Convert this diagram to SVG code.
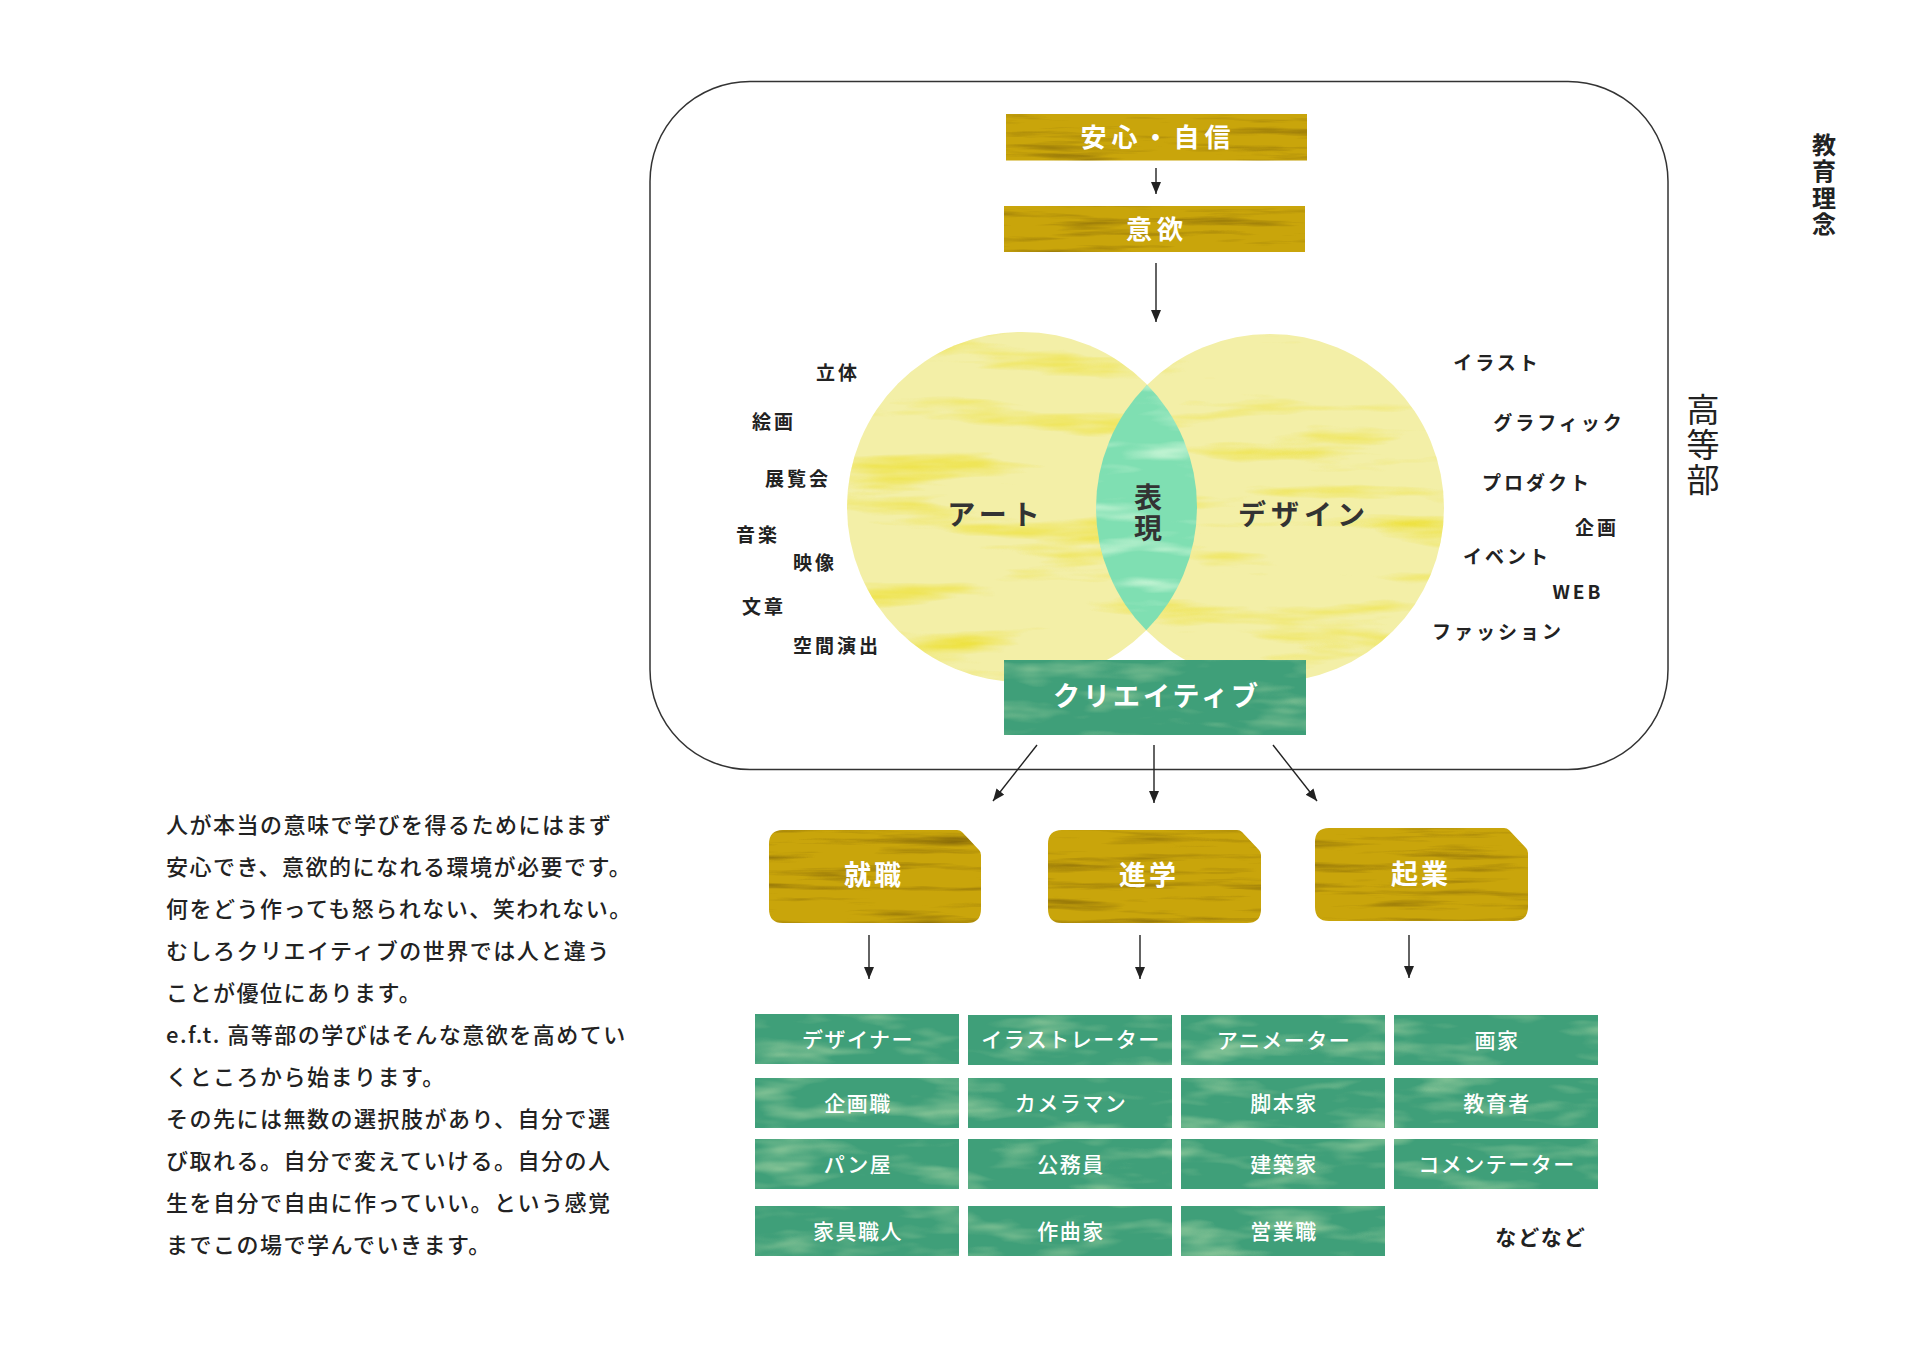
<svg xmlns="http://www.w3.org/2000/svg" width="1909" height="1350" viewBox="0 0 1909 1350">
<style>
  text { font-family: "Noto Sans CJK JP", "Noto Sans", sans-serif; }
  .frame { fill: none; stroke: #333; stroke-width: 1.5; }
  .gold { fill: #c9a50b; }
  .green { fill: #3f9f79; }
  .tile { fill: #3f9f79; }
  .wlab { fill: #ffffff; font-weight: 700; text-anchor: middle; }
  .big { font-size: 27px; letter-spacing: 3px; }
  .tl { fill: #ffffff; font-weight: 500; font-size: 21px; letter-spacing: 1.5px; text-anchor: middle; }
  .cl { fill: #222; font-weight: 700; font-size: 19px; letter-spacing: 3px; text-anchor: middle; }
  .inner { fill: #333; font-weight: 700; font-size: 28px; letter-spacing: 5px; text-anchor: middle; }
  .para { fill: #222; font-weight: 500; font-size: 22px; letter-spacing: 1.5px; }
  .vert { writing-mode: vertical-rl; text-anchor: start; fill: #222; }
  .conn line { stroke: #222; stroke-width: 1.4; fill: none; marker-end: url(#arr); }
</style>
<defs>
  <marker id="arr" markerUnits="userSpaceOnUse" markerWidth="12" markerHeight="14" refX="12" refY="5" orient="auto">
    <path d="M0,0 L12,5 L0,10 Z" fill="#222"/>
  </marker>
  <filter id="texGold" x="0" y="0" width="1" height="1" color-interpolation-filters="sRGB">
    <feTurbulence type="fractalNoise" baseFrequency="0.008 0.11" numOctaves="4" seed="7" result="n"/>
    <feColorMatrix in="n" type="matrix" values="0 0 0 0 0.47  0 0 0 0 0.36  0 0 0 0 0.03  1.8 0 0 0 -0.92" result="s"/>
    <feComposite in="s" in2="SourceGraphic" operator="in" result="s2"/>
    <feMerge><feMergeNode in="SourceGraphic"/><feMergeNode in="s2"/></feMerge>
  </filter>
  <filter id="texGreen" x="0" y="0" width="1" height="1" color-interpolation-filters="sRGB">
    <feTurbulence type="fractalNoise" baseFrequency="0.012 0.05" numOctaves="3" seed="3" result="n"/>
    <feColorMatrix in="n" type="matrix" values="0 0 0 0 0.55  0 0 0 0 0.78  0 0 0 0 0.6  2.4 0 0 0 -1.2" result="s"/>
    <feComposite in="s" in2="SourceGraphic" operator="in" result="s2"/>
    <feMerge><feMergeNode in="SourceGraphic"/><feMergeNode in="s2"/></feMerge>
  </filter>
  <filter id="texYel" x="0" y="0" width="1" height="1" color-interpolation-filters="sRGB">
    <feTurbulence type="fractalNoise" baseFrequency="0.005 0.035" numOctaves="4" seed="11" result="n"/>
    <feColorMatrix in="n" type="matrix" values="0 0 0 0 0.93  0 0 0 0 0.88  0 0 0 0 0.22  2.8 0 0 0 -1.5" result="s"/>
    <feComposite in="s" in2="SourceGraphic" operator="in" result="s2"/>
    <feMerge><feMergeNode in="SourceGraphic"/><feMergeNode in="s2"/></feMerge>
  </filter>
  <filter id="texMint" x="0" y="0" width="1" height="1" color-interpolation-filters="sRGB">
    <feTurbulence type="fractalNoise" baseFrequency="0.01 0.05" numOctaves="3" seed="5" result="n"/>
    <feColorMatrix in="n" type="matrix" values="0 0 0 0 0.75  0 0 0 0 0.95  0 0 0 0 0.82  3 0 0 0 -1.5" result="s"/>
    <feComposite in="s" in2="SourceGraphic" operator="in" result="s2"/>
    <feMerge><feMergeNode in="SourceGraphic"/><feMergeNode in="s2"/></feMerge>
  </filter>
  <clipPath id="clipLeft"><circle cx="1022" cy="507" r="175"/></clipPath>
</defs>

<rect width="1909" height="1350" fill="#ffffff"/>

<!-- outer frame -->
<rect id="frame-koutoubu" class="frame" x="650" y="81.5" width="1018" height="688" rx="100" ry="100"/>

<!-- vertical titles -->
<text id="title-kyoiku-rinen" class="vert" x="1824" y="133" font-size="24" font-weight="700" letter-spacing="2.25">教育理念</text>
<text id="title-koutoubu" class="vert" x="1703" y="393" font-size="33" font-weight="400" letter-spacing="2">高等部</text>

<!-- top boxes -->
<g id="node-anshin">
  <rect class="gold" x="1006" y="114" width="301" height="46.5" filter="url(#texGold)"/>
  <text class="wlab" x="1158" y="147" font-size="26" letter-spacing="5">安心・自信</text>
</g>
<g id="node-iyoku">
  <rect class="gold" x="1004" y="206" width="301" height="46" filter="url(#texGold)"/>
  <text class="wlab" x="1157" y="239" font-size="26" letter-spacing="5">意欲</text>
</g>

<!-- venn -->
<g id="node-art">
  <circle cx="1022" cy="507" r="175" fill="#f3efa7" filter="url(#texYel)"/>
</g>
<g id="node-design">
  <circle cx="1270" cy="508" r="174" fill="#f3efa7" filter="url(#texYel)"/>
</g>
<g id="node-hyogen">
  <g clip-path="url(#clipLeft)">
    <circle cx="1270" cy="508" r="174" fill="#7fdfb2" filter="url(#texMint)"/>
  </g>
  <text class="vert" x="1148" y="483" font-size="28" font-weight="700" letter-spacing="3" style="fill:#333">表現</text>
</g>
<text class="inner" x="996" y="525">アート</text>
<text class="inner" x="1304" y="525">デザイン</text>

<g id="labels-art">
  <text class="cl" x="838" y="380">立体</text>
  <text class="cl" x="774" y="429">絵画</text>
  <text class="cl" x="798" y="486">展覧会</text>
  <text class="cl" x="758" y="542">音楽</text>
  <text class="cl" x="815" y="570">映像</text>
  <text class="cl" x="764" y="614">文章</text>
  <text class="cl" x="837" y="653">空間演出</text>
</g>
<g id="labels-design">
  <text class="cl" x="1497" y="370">イラスト</text>
  <text class="cl" x="1559" y="430">グラフィック</text>
  <text class="cl" x="1537" y="490">プロダクト</text>
  <text class="cl" x="1597" y="535">企画</text>
  <text class="cl" x="1507" y="564">イベント</text>
  <text class="cl" x="1578" y="599" letter-spacing="1">WEB</text>
  <text class="cl" x="1498" y="639">ファッション</text>
</g>

<!-- creative -->
<g id="node-creative">
  <rect class="green" x="1004" y="660" width="302" height="75" filter="url(#texGreen)"/>
  <text class="wlab big" x="1157" y="706">クリエイティブ</text>
</g>

<!-- connectors -->
<g id="connectors" class="conn">
  <line x1="1156" y1="168" x2="1156" y2="194"/>
  <line x1="1156" y1="263" x2="1156" y2="322"/>
  <line x1="1037" y1="745" x2="993" y2="801"/>
  <line x1="1154" y1="745" x2="1154" y2="803"/>
  <line x1="1273" y1="745" x2="1317" y2="801"/>
  <line x1="869" y1="935" x2="869" y2="979"/>
  <line x1="1140" y1="935" x2="1140" y2="979"/>
  <line x1="1409" y1="935" x2="1409" y2="978"/>
</g>

<!-- tab boxes -->
<g id="node-shushoku">
  <path class="gold" filter="url(#texGold)" d="M783,830 H957 Q960,830 962,832 L979,850 Q981,852 981,855 V909 Q981,923 967,923 H783 Q769,923 769,909 V844 Q769,830 783,830 Z"/>
  <text class="wlab big" x="874" y="885">就職</text>
</g>
<g id="node-shingaku">
  <path class="gold" filter="url(#texGold)" d="M1062,830 H1237 Q1240,830 1242,832 L1259,850 Q1261,852 1261,855 V909 Q1261,923 1247,923 H1062 Q1048,923 1048,909 V844 Q1048,830 1062,830 Z"/>
  <text class="wlab big" x="1149" y="885">進学</text>
</g>
<g id="node-kigyo">
  <path class="gold" filter="url(#texGold)" d="M1329,828 H1504 Q1507,828 1509,830 L1526,848 Q1528,850 1528,853 V907 Q1528,921 1514,921 H1329 Q1315,921 1315,907 V842 Q1315,828 1329,828 Z"/>
  <text class="wlab big" x="1421" y="884">起業</text>
</g>

<!-- job tiles -->
<g id="tile-designer"><rect class="tile" x="755" y="1014" width="204" height="50" filter="url(#texGreen)"/><text class="tl" x="858" y="1047">デザイナー</text></g>
<g id="tile-illustrator"><rect class="tile" x="968" y="1015" width="204" height="50" filter="url(#texGreen)"/><text class="tl" x="1071" y="1047">イラストレーター</text></g>
<g id="tile-animator"><rect class="tile" x="1181" y="1015" width="204" height="50" filter="url(#texGreen)"/><text class="tl" x="1284" y="1048">アニメーター</text></g>
<g id="tile-gaka"><rect class="tile" x="1394" y="1015" width="204" height="50" filter="url(#texGreen)"/><text class="tl" x="1497" y="1048">画家</text></g>

<g id="tile-kikakushoku"><rect class="tile" x="755" y="1078" width="204" height="50" filter="url(#texGreen)"/><text class="tl" x="858" y="1111">企画職</text></g>
<g id="tile-cameraman"><rect class="tile" x="968" y="1078" width="204" height="50" filter="url(#texGreen)"/><text class="tl" x="1071" y="1111">カメラマン</text></g>
<g id="tile-kyakuhonka"><rect class="tile" x="1181" y="1078" width="204" height="50" filter="url(#texGreen)"/><text class="tl" x="1284" y="1111">脚本家</text></g>
<g id="tile-kyoikusha"><rect class="tile" x="1394" y="1078" width="204" height="50" filter="url(#texGreen)"/><text class="tl" x="1497" y="1111">教育者</text></g>

<g id="tile-panya"><rect class="tile" x="755" y="1139" width="204" height="50" filter="url(#texGreen)"/><text class="tl" x="858" y="1172">パン屋</text></g>
<g id="tile-koumuin"><rect class="tile" x="968" y="1139" width="204" height="50" filter="url(#texGreen)"/><text class="tl" x="1071" y="1172">公務員</text></g>
<g id="tile-kenchikuka"><rect class="tile" x="1181" y="1139" width="204" height="50" filter="url(#texGreen)"/><text class="tl" x="1284" y="1172">建築家</text></g>
<g id="tile-commentator"><rect class="tile" x="1394" y="1139" width="204" height="50" filter="url(#texGreen)"/><text class="tl" x="1497" y="1172">コメンテーター</text></g>

<g id="tile-kagushokunin"><rect class="tile" x="755" y="1206" width="204" height="50" filter="url(#texGreen)"/><text class="tl" x="858" y="1239">家具職人</text></g>
<g id="tile-sakkyokuka"><rect class="tile" x="968" y="1206" width="204" height="50" filter="url(#texGreen)"/><text class="tl" x="1071" y="1239">作曲家</text></g>
<g id="tile-eigyoshoku"><rect class="tile" x="1181" y="1206" width="204" height="50" filter="url(#texGreen)"/><text class="tl" x="1284" y="1239">営業職</text></g>
<text id="label-nadonado" x="1541" y="1245" fill="#222" font-size="21" font-weight="700" letter-spacing="2" text-anchor="middle">などなど</text>

<!-- paragraph -->
<g id="paragraph" class="para">
  <text x="166" y="833">人が本当の意味で学びを得るためにはまず</text>
  <text x="166" y="875">安心でき、意欲的になれる環境が必要です。</text>
  <text x="166" y="917">何をどう作っても怒られない、笑われない。</text>
  <text x="166" y="959">むしろクリエイティブの世界では人と違う</text>
  <text x="166" y="1001">ことが優位にあります。</text>
  <text x="166" y="1043">e.f.t. 高等部の学びはそんな意欲を高めてい</text>
  <text x="166" y="1085">くところから始まります。</text>
  <text x="166" y="1127">その先には無数の選択肢があり、自分で選</text>
  <text x="166" y="1169">び取れる。自分で変えていける。自分の人</text>
  <text x="166" y="1211">生を自分で自由に作っていい。という感覚</text>
  <text x="166" y="1253">までこの場で学んでいきます。</text>
</g>
</svg>
